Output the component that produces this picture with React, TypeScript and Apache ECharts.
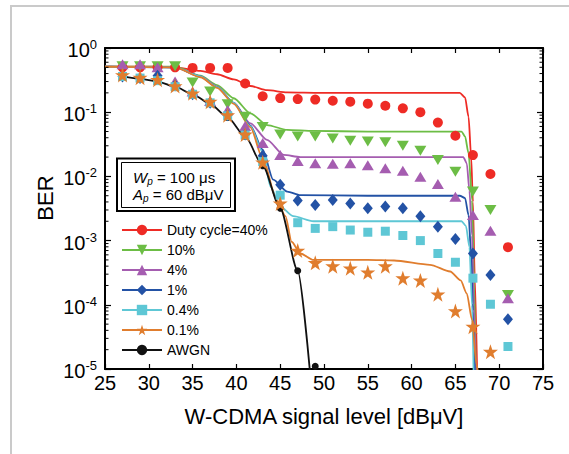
import React, { useEffect, useRef } from 'react';
import * as echarts from 'echarts';

const FONT = "'Liberation Sans', Arial, Helvetica, sans-serif";

// Measured points (dBμV)
const measuredX = [27, 29, 31, 33, 35, 37, 39, 41, 43, 45, 47, 49, 51, 53, 55, 57, 59, 61, 63, 65, 67, 69, 71];
const red40 = [0.5, 0.5, 0.5, 0.5, 0.49, 0.49, 0.49, 0.28, 0.177, 0.166, 0.16, 0.157, 0.151, 0.146, 0.136, 0.126, 0.115, 0.1, 0.069, 0.043, 0.0215, 0.0109, 0.00079];
const green10 = [0.52, 0.52, 0.52, 0.52, 0.29, 0.21, 0.133, 0.085, 0.059, 0.045, 0.042, 0.042, 0.039, 0.036, 0.035, 0.034, 0.03, 0.025, 0.018, 0.0118, 0.0058, 0.003, 0.000142];
const purple4 = [0.56, 0.56, 0.5, 0.3, 0.21, 0.15, 0.108, 0.061, 0.033, 0.0216, 0.0174, 0.016, 0.0157, 0.016, 0.0149, 0.0134, 0.0123, 0.0099, 0.0076, 0.0048, 0.0025, 0.00143, 0.000126];
const blue1 = [0.36, 0.34, 0.37, 0.26, 0.19, 0.14, 0.09, 0.045, 0.021, 0.0074, 0.0042, 0.0036, 0.0043, 0.0038, 0.0032, 0.0034, 0.0032, 0.0024, 0.00165, 0.00106, 0.00063, 0.00029, 0.0000594];
const cyan04 = [0.36, 0.34, 0.31, 0.25, 0.19, 0.14, 0.088, 0.044, 0.017, 0.0051, 0.0019, 0.00155, 0.00165, 0.00146, 0.00135, 0.0014, 0.0012, 0.001, 0.00063, 0.00046, 0.00026, 0.000102, 0.0000224];
const orange01 = [0.38, 0.345, 0.32, 0.256, 0.197, 0.146, 0.09, 0.045, 0.0166, 0.0038, 0.0007, 0.00045, 0.0004, 0.00037, 0.00032, 0.0004, 0.00026, 0.00024, 0.000146, 0.00008, 0.0000457, 0.0000186];
const awgnX = [27, 29, 31, 33, 35, 37, 39, 41, 43, 45, 47, 49];
const awgnY = [0.36, 0.33, 0.3, 0.25, 0.19, 0.135, 0.083, 0.042, 0.0147, 0.0032, 0.00034, 0.000011];

// Theory curves
const redCurveX = [25, 31, 33, 35.9, 37.8, 39.7, 41.6, 43.5, 45.8, 49.6, 55, 60, 65.5, 66.1, 66.5, 66.8, 67.0, 67.2, 67.5];
const redCurveY = [0.51, 0.51, 0.5, 0.44, 0.39, 0.325, 0.256, 0.22, 0.204, 0.2, 0.2, 0.2, 0.2, 0.17, 0.085, 0.02, 0.004, 0.0003, 0.000006];
const greenCurveX = [25, 33, 35.9, 37.8, 39.7, 41.6, 43.5, 45.8, 48.8, 55, 60, 65.7, 66.1, 66.5, 66.9, 67.1, 67.35];
const greenCurveY = [0.51, 0.51, 0.37, 0.265, 0.165, 0.096, 0.063, 0.053, 0.051, 0.05, 0.05, 0.05, 0.042, 0.023, 0.0043, 0.0003, 0.000006];
const purpleCurveX = [25, 33, 35.9, 37.8, 39.7, 41.6, 43.5, 45.4, 47.3, 55, 60, 65.9, 66.3, 66.6, 66.9, 67.1, 67.35];
const purpleCurveY = [0.51, 0.5, 0.36, 0.25, 0.14, 0.067, 0.037, 0.0216, 0.02, 0.02, 0.02, 0.02, 0.016, 0.006, 0.0012, 0.0001, 0.000006];
const blueCurveX = [25, 33, 35.9, 37.8, 39.7, 41.6, 43, 44.2, 45.8, 47.3, 55, 60, 65.5, 66.1, 66.5, 66.8, 67.0, 67.25];
const blueCurveY = [0.51, 0.5, 0.36, 0.245, 0.14, 0.062, 0.026, 0.0089, 0.0058, 0.0051, 0.005, 0.005, 0.005, 0.0046, 0.0025, 0.0006, 0.00008, 0.000006];
const cyanCurveX = [25, 33, 35.9, 37.8, 39.7, 41.6, 43, 43.9, 45, 46.5, 48.8, 55, 60, 65.7, 66.2, 66.6, 66.9, 67.1];
const cyanCurveY = [0.51, 0.5, 0.36, 0.245, 0.14, 0.06, 0.024, 0.0069, 0.0034, 0.0024, 0.002, 0.002, 0.002, 0.002, 0.0017, 0.0008, 0.0001, 0.000006];
const orangeCurveX = [25, 33, 35.9, 37.8, 39.7, 41.6, 43, 44.6, 45.6, 46.3, 47.3, 48.8, 55, 58, 62.1, 64.4, 65.6, 66.3, 66.9, 67.4, 67.75];
const orangeCurveY = [0.51, 0.5, 0.35, 0.24, 0.135, 0.058, 0.019, 0.0043, 0.0024, 0.00096, 0.00063, 0.0005, 0.0005, 0.00049, 0.00042, 0.00033, 0.00024, 0.00015, 0.000058, 0.000012, 0.000006];
const awgnCurveX = [27, 29, 31, 33, 35, 37, 39, 41, 43, 45, 47, 48.4];
const awgnCurveY = [0.36, 0.33, 0.3, 0.25, 0.19, 0.135, 0.083, 0.042, 0.0147, 0.0032, 0.00034, 0.000009];

const legendNames = ['Duty cycle=40%', '10%', '4%', '1%', '0.4%', '0.1%', 'AWGN'];
const minorMultipliers = [2, 3, 4, 5, 6, 7, 8, 9];
const decades = [-5, -4, -3, -2, -1];

const STAR = 'path://M12,0 L14.9,8.6 L24,8.6 L16.6,14 L19.4,22.8 L12,17.5 L4.6,22.8 L7.4,14 L0,8.6 L9.1,8.6 Z';
const TRI_DOWN = 'path://M0,0 L20,0 L10,17 Z';
const TRI_UP = 'path://M10,0 L20,17 L0,17 Z';

const zip = (xs: number[], ys: number[]) => ys.map((y, i) => [xs[i], y]);

const defs = [
  { name: legendNames[0], color: '#ee2b25', symbol: 'circle', size: 10, mx: measuredX, my: red40, cx: redCurveX, cy: redCurveY },
  { name: legendNames[1], color: '#6cbd45', symbol: TRI_DOWN, size: [12, 10], mx: measuredX, my: green10, cx: greenCurveX, cy: greenCurveY },
  { name: legendNames[2], color: '#a55db0', symbol: TRI_UP, size: [12, 10], mx: measuredX, my: purple4, cx: purpleCurveX, cy: purpleCurveY },
  { name: legendNames[3], color: '#2352a5', symbol: 'diamond', size: [10, 12], mx: measuredX, my: blue1, cx: blueCurveX, cy: blueCurveY },
  { name: legendNames[4], color: '#5ec7d5', symbol: 'rect', size: 9, mx: measuredX, my: cyan04, cx: cyanCurveX, cy: cyanCurveY },
  { name: legendNames[5], color: '#e07d2e', symbol: STAR, size: 15, mx: measuredX, my: orange01, cx: orangeCurveX, cy: orangeCurveY },
  { name: legendNames[6], color: '#111111', symbol: 'circle', size: 7, mx: awgnX, my: awgnY, cx: awgnCurveX, cy: awgnCurveY },
];

export default function App() {
  const ref = useRef<HTMLDivElement>(null);
  useEffect(() => {
    document.body.style.margin = '0';
    const chart = echarts.init(ref.current!, null, { renderer: 'svg' });
    const series: any[] = [];
    defs.forEach((d) => {
      series.push({
        type: 'line', name: d.name, data: zip(d.cx, d.cy), showSymbol: false,
        symbol: d.symbol, symbolSize: d.size, smooth: 0.25, smoothMonotone: 'x',
        lineStyle: { color: d.color, width: 1.8 }, itemStyle: { color: d.color }, z: 2, silent: true,
      });
    });
    // AWGN markers drawn first so the others lie over them
    [defs[6], ...defs.slice(0, 6)].forEach((d) => {
      series.push({
        type: 'scatter', name: d.name, data: zip(d.mx, d.my), symbol: d.symbol, symbolSize: d.size,
        itemStyle: { color: d.color, opacity: 1 }, z: 3, silent: true,
      });
    });
    const minorData: number[][] = [];
    decades.forEach((e) => minorMultipliers.forEach((m) => minorData.push([25, m * Math.pow(10, e)])));
    series.push({
      type: 'custom', name: '__minor', data: minorData, silent: true, z: 5, clip: false,
      renderItem: (_p: any, api: any) => {
        const v = api.value(1);
        const a = api.coord([25, v]);
        const b = api.coord([75, v]);
        return {
          type: 'group', children: [
            { type: 'line', shape: { x1: a[0], y1: a[1], x2: a[0] + 3.5, y2: a[1] }, style: { stroke: '#000', lineWidth: 1 } },
            { type: 'line', shape: { x1: b[0], y1: b[1], x2: b[0] - 3.5, y2: b[1] }, style: { stroke: '#000', lineWidth: 1 } },
          ],
        };
      },
    });
    const yLabel = (v: number) => `{b|10}{e|${Math.round(Math.log10(v))}}`;
    const axisLine = { show: true, lineStyle: { color: '#000', width: 2 } };
    chart.setOption({
      animation: false,
      backgroundColor: '#fff',
      textStyle: { fontFamily: FONT },
      grid: { left: 105, top: 48, width: 438, height: 321, containLabel: false },
      xAxis: [
        {
          type: 'value', min: 25, max: 75, interval: 5, position: 'bottom',
          axisLine, splitLine: { show: false },
          axisTick: { inside: true, length: 5, lineStyle: { color: '#000', width: 1.2 } },
          axisLabel: { fontSize: 20, color: '#000', fontFamily: FONT, margin: 4 },
          name: 'W-CDMA signal level [dBμV]', nameLocation: 'middle', nameGap: 36,
          nameTextStyle: { fontSize: 22, color: '#000', fontFamily: FONT },
        },
        {
          type: 'value', min: 25, max: 75, interval: 5, position: 'top',
          axisLine, splitLine: { show: false }, axisLabel: { show: false },
          axisTick: { inside: true, length: 5, lineStyle: { color: '#000', width: 1.2 } },
        },
      ],
      yAxis: [
        {
          type: 'log', logBase: 10, min: 0.00001, max: 1, position: 'left',
          axisLine, splitLine: { show: false }, minorTick: { show: false },
          axisTick: { inside: true, length: 6, lineStyle: { color: '#000', width: 1.2 } },
          axisLabel: {
            formatter: yLabel, margin: 8, color: '#000',
            rich: {
              b: { fontSize: 20, lineHeight: 20, fontFamily: FONT, color: '#000', padding: [4, 0, 0, 0] },
              e: { fontSize: 13, lineHeight: 13, fontFamily: FONT, color: '#000', verticalAlign: 'top' },
            },
          },
        },
        {
          type: 'log', logBase: 10, min: 0.00001, max: 1, position: 'right',
          axisLine, splitLine: { show: false }, axisLabel: { show: false },
          axisTick: { inside: true, length: 6, lineStyle: { color: '#000', width: 1.2 } },
        },
      ],
      legend: {
        data: legendNames, orient: 'vertical', left: 121, top: 223, padding: 0,
        itemWidth: 40, itemHeight: 13, itemGap: 6,
        textStyle: { fontSize: 14, color: '#000', fontFamily: FONT },
        selectedMode: false,
      },
      graphic: [
        { type: 'rect', z: -10, silent: true, shape: { x: 11, y: 6, width: 600, height: 500 }, style: { fill: 'none', stroke: '#cacaca', lineWidth: 2 } },
        { type: 'rect', z: 10, silent: true, shape: { x: 117, y: 158.5, width: 118, height: 52.5 }, style: { fill: '#fff', stroke: '#000', lineWidth: 2 } },
        { type: 'rect', z: 10, silent: true, shape: { x: 121.5, y: 162.5, width: 109, height: 45 }, style: { fill: 'none', stroke: '#000', lineWidth: 1 } },
        {
          type: 'text', z: 11, silent: true, x: 133, y: 177,
          style: {
            text: '{w|W}{s|p}{n| = 100 μs}', verticalAlign: 'middle', align: 'left',
            rich: {
              w: { fontSize: 15, lineHeight: 15, fontStyle: 'italic', fontFamily: FONT, fill: '#000' },
              s: { fontSize: 10, lineHeight: 10, fontStyle: 'italic', fontFamily: FONT, fill: '#000', padding: [8, 0, 0, 0] },
              n: { fontSize: 15, lineHeight: 15, fontFamily: FONT, fill: '#000' },
            },
          },
        },
        {
          type: 'text', z: 11, silent: true, x: 133, y: 194,
          style: {
            text: '{w|A}{s|p}{n| = 60 dBμV}', verticalAlign: 'middle', align: 'left',
            rich: {
              w: { fontSize: 15, lineHeight: 15, fontStyle: 'italic', fontFamily: FONT, fill: '#000' },
              s: { fontSize: 10, lineHeight: 10, fontStyle: 'italic', fontFamily: FONT, fill: '#000', padding: [8, 0, 0, 0] },
              n: { fontSize: 15, lineHeight: 15, fontFamily: FONT, fill: '#000' },
            },
          },
        },
        {
          type: 'text', silent: true, x: 45, y: 198, rotation: Math.PI / 2,
          style: { text: 'BER', fontSize: 22, fontFamily: FONT, fill: '#000', align: 'center', verticalAlign: 'middle' },
        },
      ],
      series,
    });
    return () => chart.dispose();
  }, []);
  return <div ref={ref} style={{ width: 569, height: 454, background: '#fff' }} />;
}
